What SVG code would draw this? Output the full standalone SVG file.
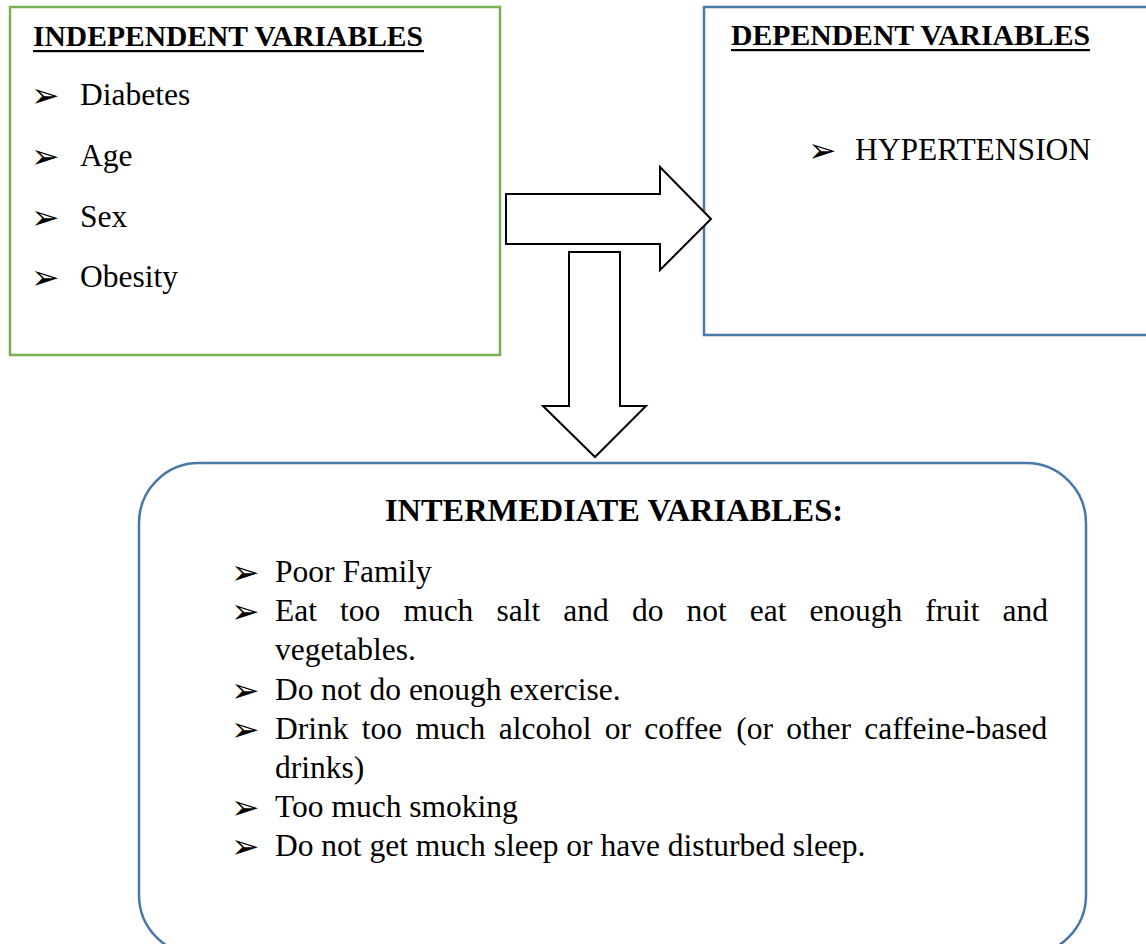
<svg xmlns="http://www.w3.org/2000/svg" width="1146" height="944" viewBox="0 0 1146 944">
<style>
.t{font-family:"Liberation Serif","Times New Roman",serif;fill:#000}
.h{font-family:"Liberation Serif","Times New Roman",serif;font-weight:bold;fill:#000}
.b{font-family:"DejaVu Sans",sans-serif;fill:#000;font-size:34px}
.arrow{fill:#fff;stroke:#000;stroke-width:2;stroke-linejoin:miter}
</style>
<rect width="1146" height="944" fill="#fff"/>
<g id="independent">
<rect x="10" y="7" width="490" height="348" fill="#fff" stroke="#78b152" stroke-width="2.5"/>
<text class="h" x="33" y="46" font-size="29.5" textLength="390" lengthAdjust="spacingAndGlyphs">INDEPENDENT VARIABLES</text>
<rect x="33" y="50" width="391" height="2.2" fill="#000"/>
<text class="b" x="31" y="107">➢</text>
<text class="t" x="80" y="105" font-size="31.5">Diabetes</text>
<text class="b" x="31" y="168">➢</text>
<text class="t" x="80" y="166" font-size="31.5">Age</text>
<text class="b" x="31" y="229">➢</text>
<text class="t" x="80" y="227" font-size="31.5">Sex</text>
<text class="b" x="31" y="289">➢</text>
<text class="t" x="80" y="287" font-size="31.5">Obesity</text>
</g>
<g id="dependent">
<rect x="704" y="7" width="460" height="328" fill="#fff" stroke="#4a77a9" stroke-width="2.5"/>
<text class="h" x="731" y="45" font-size="29.5" textLength="359" lengthAdjust="spacingAndGlyphs">DEPENDENT VARIABLES</text>
<rect x="731" y="49" width="359" height="2.2" fill="#000"/>
<text class="b" x="808" y="162">➢</text>
<text class="t" x="855" y="160" font-size="31.5">HYPERTENSION</text>
</g>
<g id="connectors">
<polygon class="arrow" points="569,252 620,252 620,406 646,406 595,457 543,406 569,406"/>
<polygon class="arrow" points="506,194 660,194 660,167 711,219 660,270 660,244 506,244"/>
</g>
<g id="intermediate">
<rect x="139" y="463" width="947" height="492" rx="60" ry="60" fill="none" stroke="#4a77a9" stroke-width="2.5"/>
<text class="h" x="385" y="521" font-size="32" textLength="458" lengthAdjust="spacingAndGlyphs">INTERMEDIATE VARIABLES:</text>
<g class="t" font-size="31.5">
<text class="b" x="231" y="584">➢</text>
<text x="275" y="582">Poor Family</text>
<text class="b" x="231" y="623">➢</text>
<text y="621"><tspan x="275">Eat</tspan><tspan x="340">too</tspan><tspan x="403.4">much</tspan><tspan x="496.5">salt</tspan><tspan x="563.3">and</tspan><tspan x="631.9">do</tspan><tspan x="686.4">not</tspan><tspan x="749.8">eat</tspan><tspan x="809.5">enough</tspan><tspan x="925.3">fruit</tspan><tspan x="1002.5">and</tspan></text>
<text x="275" y="660">vegetables.</text>
<text class="b" x="231" y="702">➢</text>
<text x="275" y="700">Do not do enough exercise.</text>
<text class="b" x="231" y="741">➢</text>
<text y="739"><tspan x="275">Drink</tspan><tspan x="361.8">too</tspan><tspan x="415.4">much</tspan><tspan x="498.7">alcohol</tspan><tspan x="604.7">or</tspan><tspan x="644.2">coffee</tspan><tspan x="736.2">(or</tspan><tspan x="786.2">other</tspan><tspan x="864.2">caffeine-based</tspan></text>
<text x="275" y="778">drinks)</text>
<text class="b" x="231" y="819">➢</text>
<text x="275" y="817">Too much smoking</text>
<text class="b" x="231" y="858">➢</text>
<text x="275" y="856">Do not get much sleep or have disturbed sleep.</text>
</g>
</g>
</svg>
